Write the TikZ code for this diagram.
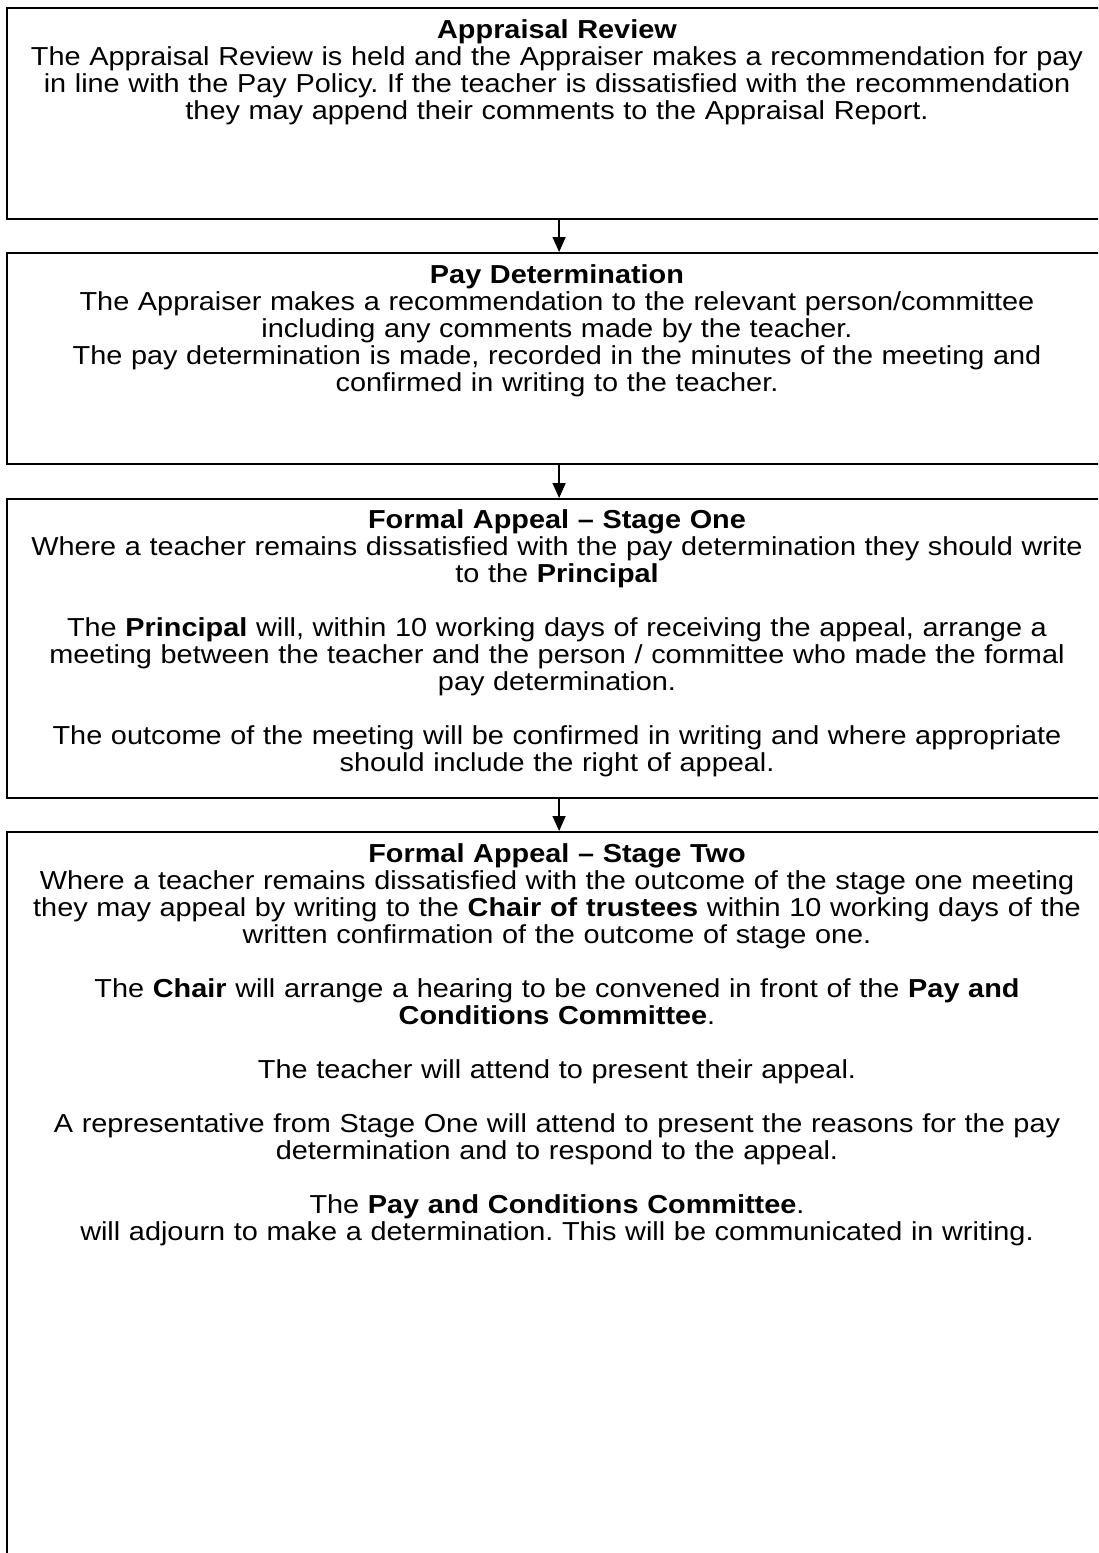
\documentclass[tikz,border=0pt]{standalone}
\usepackage{fontspec}
\setmainfont{Liberation Sans}[FakeStretch=1.11]
\usetikzlibrary{arrows.meta}
\frenchspacing
\begin{document}
\begin{tikzpicture}[x=1pt,y=-1pt,
  panel/.style={draw=black,line width=2.2pt,anchor=north west,minimum width=1104pt,inner sep=0pt},
  body/.style={anchor=base,text width=1150pt,align=center,inner sep=0pt,
    font=\fontsize{26}{27}\selectfont\frenchspacing},
  link/.style={line width=1.6pt,-{Triangle[width=13pt,length=15pt]}}]
\useasboundingbox (0,0) rectangle (1098,1553);
\clip (0,0) rectangle (1098,1553);

% stage boxes
\node[panel,minimum height=211pt] (review) at (6,7) {};
\node[panel,minimum height=211pt] (paydet) at (6,252) {};
\node[panel,minimum height=299pt] (stageone) at (6,498) {};
\node[panel,minimum height=800pt] (stagetwo) at (6,831) {};

% connectors
\draw[link] (review.south) -- (paydet.north);
\draw[link] (paydet.south) -- (stageone.north);
\draw[link] (stageone.south) -- (stagetwo.north);

% box texts
\node[body] (reviewtext) at (557,38) {\textbf{Appraisal Review}\\
The Appraisal Review is held and the Appraiser makes a recommendation for pay\\
in line with the Pay Policy. If the teacher is dissatisfied with the recommendation\\
they may append their comments to the Appraisal Report.};

\node[body] (paydettext) at (557,283) {\textbf{Pay Determination}\\
The Appraiser makes a recommendation to the relevant person/committee\\
including any comments made by the teacher.\\
The pay determination is made, recorded in the minutes of the meeting and\\
confirmed in writing to the teacher.};

\node[body] (stageonetext) at (557,528) {\textbf{Formal Appeal – Stage One}\\
Where a teacher remains dissatisfied with the pay determination they should write\\
to the \textbf{Principal}\\[27pt]
The \textbf{Principal} will, within 10 working days of receiving the appeal, arrange a\\
meeting between the teacher and the person / committee who made the formal\\
pay determination.\\[27pt]
The outcome of the meeting will be confirmed in writing and where appropriate\\
should include the right of appeal.};

\node[body] (stagetwotext) at (557,862) {\textbf{Formal Appeal – Stage Two}\\
Where a teacher remains dissatisfied with the outcome of the stage one meeting\\
they may appeal by writing to the \textbf{Chair of trustees} within 10 working days of the\\
written confirmation of the outcome of stage one.\\[27pt]
The \textbf{Chair} will arrange a hearing to be convened in front of the \textbf{Pay and}\\
\textbf{Conditions Committee}.\\[27pt]
The teacher will attend to present their appeal.\\[27pt]
A representative from Stage One will attend to present the reasons for the pay\\
determination and to respond to the appeal.\\[27pt]
The \textbf{Pay and Conditions Committee}.\\
will adjourn to make a determination. This will be communicated in writing.};
\end{tikzpicture}
\end{document}
